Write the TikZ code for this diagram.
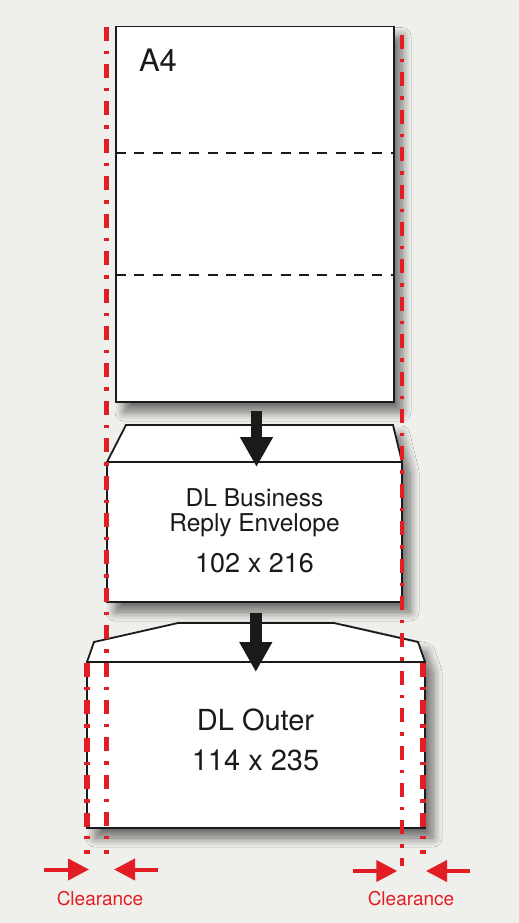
\documentclass[tikz,border=0pt]{standalone}
\usepackage{fontspec}
\setmainfont{TeX Gyre Heros}
\usetikzlibrary{arrows.meta,shadows.blur,calc}
\definecolor{bg}{RGB}{239,239,235}
\definecolor{myred}{RGB}{226,30,36}
\definecolor{ink}{RGB}{26,26,26}
\begin{document}
\begin{tikzpicture}[x=1pt,y=-1pt,
  outline/.style={draw=ink,line width=1.8pt},
  shad/.style={blur shadow={shadow xshift=8pt,shadow yshift=-10pt,shadow blur radius=9pt,shadow blur steps=12,shadow opacity=55}},
  boxnode/.style={outline,fill=white,inner sep=0pt,outer sep=0pt,anchor=north west},
  fold/.style={draw=ink,line width=1.8pt,dash pattern=on 10pt off 8.3pt},
  clearline/.style={myred,line width=4.2pt,dash pattern=on 14pt off 10pt on 3.4pt off 10pt},
  clearthick/.style={myred,line width=5.5pt,dash pattern=on 14pt off 10pt on 3.4pt off 10pt},
  bigarrow/.style={ink,line width=11.6pt,-{Triangle[width=31pt,length=30pt]}},
  redarrow/.style={myred,line width=4pt,-{Triangle[width=21pt,length=21pt]}},
  lbl/.style={anchor=base,inner sep=0pt,text=ink},
  redlbl/.style={anchor=base,inner sep=0pt,text=myred,font=\fontsize{19}{19}\selectfont}
]
% background
\fill[bg] (0,0) rectangle (519,923);
\useasboundingbox (0,0) rectangle (519,923);

% A4 sheet
\node[boxnode,shad,minimum width=278pt,minimum height=375.5pt] (a4) at (116,26.5) {};
\draw[fold] ($(a4.north west)+(0,126.2)$) -- ($(a4.north east)+(0,126.2)$);
\draw[fold] ($(a4.north west)+(0,248.3)$) -- ($(a4.north east)+(0,248.3)$);
\node[lbl,font=\fontsize{31}{31}\selectfont] (a4lbl) at (158,72) {A4};

% DL Business Reply Envelope
\fill[white,shad] (107,462) -- (126,425) -- (393,425) -- (402,462) -- (402,602) -- (107,602) -- cycle;
\node[boxnode,minimum width=295pt,minimum height=140pt] (env1) at (107,462) {};
\draw[outline,line join=miter] (env1.north west) -- (126,425) -- (393,425) -- (env1.north east);
\node[lbl,font=\fontsize{24.5}{24.5}\selectfont] (e1a) at (254.5,506.5) {DL Business};
\node[lbl,font=\fontsize{24.5}{24.5}\selectfont] (e1b) at (254.5,531.5) {Reply Envelope};
\node[lbl,font=\fontsize{27}{27}\selectfont] (e1c) at (254.5,572) {102 x 216};

% DL Outer envelope
\fill[white,shad] (87,662) -- (94,642) -- (178,623) -- (334,623) -- (418,642) -- (425,662) -- (425,828) -- (87,828) -- cycle;
\node[boxnode,minimum width=338pt,minimum height=166pt] (env2) at (87,662) {};
\draw[outline,line join=miter] (env2.north west) -- (94,642) -- (178,623) -- (334,623) -- (418,642) -- (env2.north east);
\node[lbl,font=\fontsize{29}{29}\selectfont] (e2a) at (255.5,730) {DL Outer};
\node[lbl,font=\fontsize{29}{29}\selectfont] (e2b) at (255.5,770) {114 x 235};

% black arrows
\coordinate (a1s) at (256.5,411);
\coordinate (a1e) at (256.5,467);
\coordinate (a2s) at (255.8,612.5);
\coordinate (a2e) at (255.8,672);
\draw[bigarrow] (a1s) -- (a1e);
\draw[bigarrow] (a2s) -- (a2e);

% red clearance lines
\coordinate (li1) at (106.5,26.7);
\coordinate (li2) at (106.5,828);
\coordinate (ri1) at (402,35);
\coordinate (ri2) at (402,866);
\coordinate (lo1) at (87,663);
\coordinate (lo2) at (87,828);
\coordinate (ro1) at (423,663);
\coordinate (ro2) at (423,828);
\draw[clearline] (li1) -- (li2);
\draw[clearline] (ri1) -- (ri2);
\draw[clearthick] (lo1) -- (lo2);
\draw[clearthick] (ro1) -- (ro2);
\draw[myred,line width=4.2pt] (106.5,835.5) -- (106.5,838.9);
\draw[myred,line width=4.2pt] (106.5,850.3) -- (106.5,853.7);
\draw[myred,line width=5.5pt] (87,835.5) -- (87,838.9);
\draw[myred,line width=5.5pt] (87,850.3) -- (87,853.7);
\draw[myred,line width=5.5pt] (423,835.5) -- (423,838.9);
\draw[myred,line width=5.5pt] (423,850.3) -- (423,853.7);

% clearance arrows
\coordinate (c1a) at (44,869.5);
\coordinate (c1b) at (89,869.5);
\coordinate (c2a) at (157.5,869.5);
\coordinate (c2b) at (114,869.5);
\coordinate (c3a) at (352.7,871);
\coordinate (c3b) at (397.3,871);
\coordinate (c4a) at (470,871);
\coordinate (c4b) at (426,871);
\draw[redarrow] (c1a) -- (c1b);
\draw[redarrow] (c2a) -- (c2b);
\draw[redarrow] (c3a) -- (c3b);
\draw[redarrow] (c4a) -- (c4b);
\node[redlbl] (cl1) at (100,905) {Clearance};
\node[redlbl] (cl2) at (411,905) {Clearance};
\end{tikzpicture}
\end{document}
